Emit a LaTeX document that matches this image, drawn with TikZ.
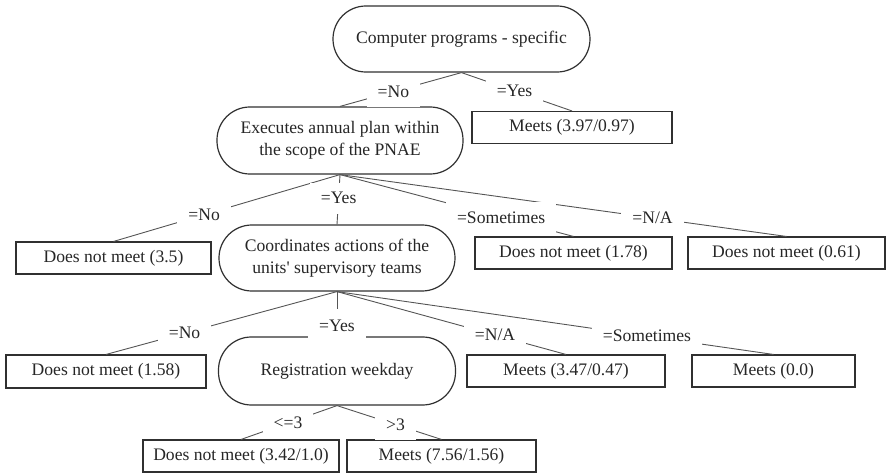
\documentclass[tikz,border=0pt]{standalone}
\usepackage{fontspec}
\setmainfont{Liberation Serif}[Ligatures=TeXOff]
\definecolor{textc}{HTML}{262626}
\definecolor{linec}{HTML}{303030}
\definecolor{edgec}{HTML}{555555}
\begin{document}
\begin{tikzpicture}[x=1pt,y=-1pt,
  every node/.style={font=\fontsize{17.6}{21.5}\selectfont, text=textc},
  split/.style={draw=linec, line width=1.2pt, rounded corners=32.9pt, minimum height=66pt, align=center, inner sep=0pt},
  leaf/.style={draw=linec, line width=1.1pt, minimum height=32pt, inner sep=0pt},
  conn/.style={draw=edgec, line width=0.9pt},
  lbl/.style={fill=white, inner xsep=11pt, inner ysep=0pt, minimum height=31pt}]
\useasboundingbox (0,0) rectangle (886,473);
% nodes
\node[split, minimum width=257pt] (root) at (461.5,39) {Computer programs - specific};
\node[split, minimum width=246pt, minimum height=67pt] (exec) at (340,140.5) {Executes annual plan within\\the scope of the PNAE};
\node[leaf, minimum width=200pt] (m1) at (572,127.5) {Meets (3.97/0.97)};
\node[leaf, minimum width=195pt] (d35) at (113.5,258) {Does not meet (3.5)};
\node[split, minimum width=236pt] (coord) at (337,258) {Coordinates actions of the\\units' supervisory teams};
\node[leaf, minimum width=197pt] (d178) at (573.5,253) {Does not meet (1.78)};
\node[leaf, minimum width=197pt] (d061) at (786.5,253) {Does not meet (0.61)};
\node[leaf, minimum width=200pt, minimum height=33pt] (d158) at (106,371.5) {Does not meet (1.58)};
\node[split, minimum width=237pt, minimum height=68pt] (reg) at (337,371) {Registration weekday};
\node[leaf, minimum width=198pt] (m347) at (566,371) {Meets (3.47/0.47)};
\node[leaf, minimum width=163pt] (m00) at (773.5,371) {Meets (0.0)};
\node[leaf, minimum width=196pt] (d342) at (241,456) {Does not meet (3.42/1.0)};
\node[leaf, minimum width=189pt] (m756) at (441.5,456) {Meets (7.56/1.56)};
% connectors
\draw[conn] (root.south) -- node[lbl, pos=0.56] {=No} (exec.north);
\draw[conn] (root.south) -- node[lbl, pos=0.48] {=Yes} (m1.north);
\draw[conn] (exec.south) -- node[lbl, pos=0.60] {=No} (d35.north);
\draw[conn] (exec.south) -- node[lbl, pos=0.47] {=Yes} (coord.north);
\draw[conn] (exec.south) -- node[lbl, pos=0.70] {=N/A} (d061.north);
\draw[conn] (exec.south) -- node[lbl, pos=0.69] {=Sometimes} (d178.north);
\draw[conn] (coord.south) -- node[lbl, pos=0.66] {=No} (d158.north);
\draw[conn] (coord.south) -- node[lbl, pos=0.71] {=Sometimes} (m00.north);
\draw[conn] (coord.south) -- node[lbl, pos=0.69] {=N/A} (m347.north);
\draw[conn] (coord.south) -- node[lbl, pos=0.77, minimum height=34pt] {=Yes} (reg.north);
\draw[conn] (reg.south) -- node[lbl, pos=0.51] {<=3} (d342.north);
\draw[conn] (reg.south) -- node[lbl, pos=0.56] {>3} (m756.north);
\end{tikzpicture}
\end{document}
